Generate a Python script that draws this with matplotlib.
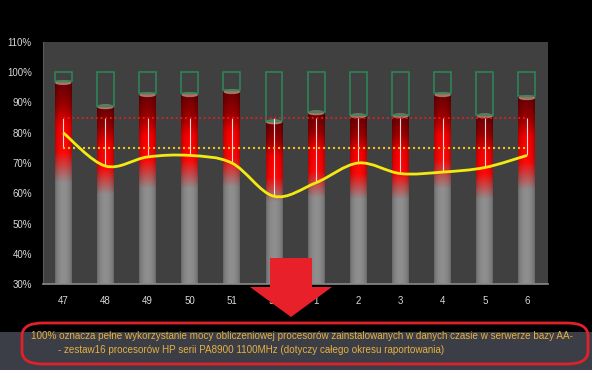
import numpy as np
import matplotlib
matplotlib.use('Agg')
import matplotlib.pyplot as plt
from matplotlib.path import Path
from matplotlib.patches import PathPatch, Rectangle, Ellipse, FancyBboxPatch, Polygon

weeks = ['47', '48', '49', '50', '51', '52', '1', '2', '3', '4', '5', '6']
usage = [97, 89, 93, 93, 94, 84, 87, 86, 86, 93, 86, 92]          # bar tops, %
avg_line = [80, 69, 72, 72.5, 70, 59, 63.5, 70, 66.5, 67, 68.5, 72.5]  # yellow curve
limit_hi = 85   # red dotted
limit_lo = 75   # yellow dotted
note_1 = ('100% oznacza pełne wykorzystanie mocy obliczeniowej procesorów zainstalowanych '
          'w danych czasie w serwerze bazy AA-')
note_2 = '- zestaw16 procesorów HP serii PA8900 1100MHz (dotyczy całego okresu raportowania)'

fig = plt.figure(figsize=(5.92, 3.70), dpi=100)
fig.patch.set_facecolor('black')
ax = fig.add_axes([43/592, 1-284/370, (548-43)/592, (284-42)/370])
ax.set_facecolor('#404040')

x = np.arange(len(weeks))
w = 0.40

# bar colour: vertical gradient (gray -> red -> dark red) + cylinder shading
stops_t = [0.0, 0.50, 0.65, 0.78, 0.88, 1.0]
stops_c = np.array([[0.56, 0.56, 0.56], [0.56, 0.56, 0.56], [1.0, 0.03, 0.03],
                    [0.97, 0.0, 0.0], [0.62, 0.0, 0.0], [0.40, 0.0, 0.02]])
t = np.linspace(0, 1, 200)
col = np.stack([np.interp(t, stops_t, stops_c[:, k]) for k in range(3)], axis=1)
u = np.linspace(0, 1, 40)
shade = 0.72 + 0.28 * np.sin(np.pi * u) ** 0.6
img = col[::-1, None, :] * shade[None, :, None]

for xi, v in zip(x, usage):
    ax.imshow(img, extent=(xi - w/2, xi + w/2, 30, v), aspect='auto',
              interpolation='bilinear', zorder=2)
    ax.add_patch(Ellipse((xi, v - 0.4), w * 0.9, 1.2, color='#b09080', alpha=0.75, zorder=3))
    ax.add_patch(Rectangle((xi - w/2, v), w, 100 - v, fill=False,
                           edgecolor='#2a8a58', lw=1.1, zorder=3))

# high-low lines between the three line series
for xi, a in zip(x, avg_line):
    ax.vlines(xi, min(a, limit_lo), limit_hi, color='white', lw=0.8, alpha=0.85, zorder=4)

ax.plot([x[0], x[-1]], [limit_hi, limit_hi], color='#e02020', lw=1.3,
        linestyle=(0, (1, 1.6)), zorder=4)
ax.plot([x[0], x[-1]], [limit_lo, limit_lo], color='#f0c020', lw=1.5,
        linestyle=(0, (1, 1.4)), zorder=4)

# smoothed line (Excel style bezier)
pts = np.column_stack([x, avg_line]).astype(float)
verts = [pts[0]]
codes = [Path.MOVETO]
n = len(pts)
for i in range(n - 1):
    p0 = pts[max(i - 1, 0)]
    p1 = pts[i]
    p2 = pts[i + 1]
    p3 = pts[min(i + 2, n - 1)]
    verts += [p1 + (p2 - p0) / 6, p2 - (p3 - p1) / 6, p2]
    codes += [Path.CURVE4] * 3
ax.add_patch(PathPatch(Path(verts, codes), fill=False, edgecolor='#f5ea10', lw=2, zorder=5))

ax.set_xlim(-0.48, 11.5)
ax.set_ylim(30, 110)
ax.set_yticks(range(30, 111, 10))
ax.set_yticklabels([f'{v}%' for v in range(30, 111, 10)])
ax.set_xticks(x)
ax.set_xticklabels(weeks)
ax.tick_params(length=0, colors='#d8d8d8', labelsize=7, pad=8)
ax.tick_params(axis='x', pad=9)
for lab in ax.get_xticklabels() + ax.get_yticklabels():
    lab.set_family('Liberation Sans')
for s in ['top', 'right']:
    ax.spines[s].set_visible(False)
ax.spines['left'].set_color('#5a5a5a')
ax.spines['bottom'].set_color('#8a8a8a')
ax.spines['bottom'].set_linewidth(1.2)

# note band at the bottom
fig.patches.append(Rectangle((0, 0), 1, (370 - 332) / 370, transform=fig.transFigure,
                             facecolor='#3b3e46', edgecolor='none', zorder=1))
fig.patches.append(FancyBboxPatch((22/592, 6/370), 566/592, 41/370,
                                  boxstyle='round,pad=0.0,rounding_size=0.035',
                                  transform=fig.transFigure, fill=False,
                                  edgecolor='#e0202a', lw=2, zorder=3))
fig.text(31/592, 1 - 336/370, note_1, color='#e8b040', fontsize=7.15,
         family='Liberation Sans', va='center', ha='left', zorder=4)
fig.text(58/592, 1 - 350/370, note_2, color='#e8b040', fontsize=7.15,
         family='Liberation Sans', va='center', ha='left', zorder=4)

# big red arrow
arrow = [(270, 258), (312, 258), (312, 287), (332, 287), (291, 317), (250, 287), (270, 287)]
fig.patches.append(Polygon([(px/592, 1 - py/370) for px, py in arrow], closed=True,
                           transform=fig.transFigure, facecolor='#e8202a',
                           edgecolor='none', zorder=10))

fig.savefig('out.png', dpi=100, facecolor='black')
